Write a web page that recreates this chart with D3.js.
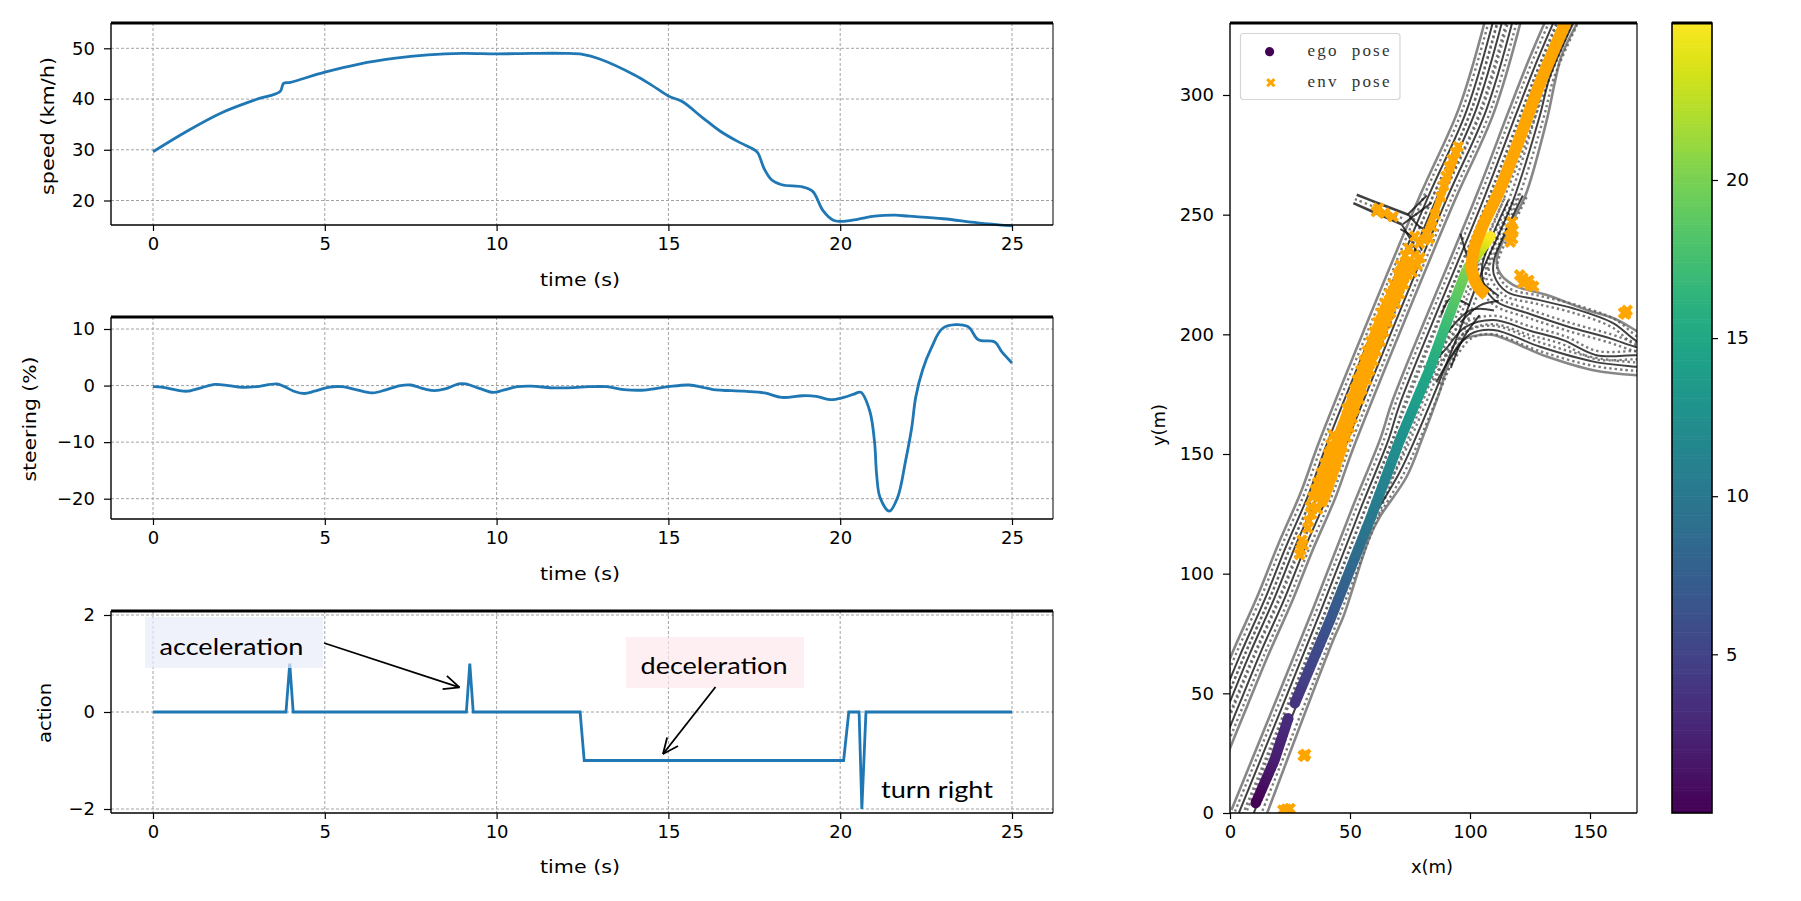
<!DOCTYPE html>
<html><head><meta charset="utf-8">
<style>html,body{margin:0;padding:0;background:#fff}svg{display:block}</style>
<script src="https://cdn.jsdelivr.net/npm/d3@7/dist/d3.min.js"></script></head><body><svg id="c" width="1801" height="901"></svg>
<script>
// ---- time series ----
const speedT=[0,1,2,3,3.7,3.8,4,5,6,7,8,9,10,11,12,12.5,13,14,14.5,15,15.4,16,16.5,17,17.5,17.6,17.8,18,18.3,18.9,19.2,19.5,19.8,20,20.5,21,21.6,22,23,24,25];
const speedV=[29.6,33.7,37.3,39.9,41.5,43.1,43.3,45.3,46.9,48,48.7,49,48.9,49,49,48.8,47.9,44.8,42.8,40.6,39.5,36.3,33.7,31.7,30,29.4,26.1,24.1,23.1,22.7,21.8,18,16.1,15.9,16.3,16.9,17.1,16.9,16.4,15.6,15];
const steerT=[0,.3,.7,1,1.4,1.8,2.2,2.6,3,3.6,3.8,4.1,4.4,4.7,5.1,5.5,5.9,6.4,6.8,7.2,7.5,7.9,8.2,8.5,8.9,9.1,9.5,9.9,10.2,10.6,11,11.6,12,12.7,13.2,13.7,14.3,15,15.6,16,16.3,17.2,17.8,18.3,18.9,19.3,19.7,20.1,20.4,20.6,20.86,21,21.06,21.16,21.43,21.67,21.9,22.08,22.2,22.4,22.65,23,23.7,24.02,24.5,24.7,25];
const steerV=[-.2,-.3,-.8,-1,-.4,.2,0,-.3,-.2,.3,-.1,-1,-1.4,-1,-.3,-.2,-.7,-1.3,-.7,0,.1,-.6,-.9,-.6,.3,.3,-.5,-1.2,-.8,-.2,-.1,-.4,-.4,-.2,-.2,-.7,-.8,-.2,.1,-.3,-.7,-1,-1.3,-2.1,-1.8,-1.9,-2.5,-2.1,-1.5,-1.2,-4.5,-10,-15.7,-19.8,-22.2,-19.8,-13.4,-7.5,-2,2.8,6.6,10.2,10.5,8.1,7.7,6,4];
const actionT=[0,3.87,3.98,4.08,9.12,9.22,9.32,12.43,12.55,20.1,20.25,20.55,20.63,20.75,25];
const actionV=[0,0,1,0,0,1,0,0,-1,-1,0,0,-2,0,0];
const timeTicks=[0,5,10,15,20,25];
const speedTicks=[20,30,40,50], steerTicks=[-20,-10,0,10], actionTicks=[-2,0,2];
const mapXTicks=[0,50,100,150], mapYTicks=[0,50,100,150,200,250,300], cbTicks=[5,10,15,20];
// ---- road lanes (x,y in metres) ----
const laneL1=[[-3.8,46.5],[4.2,66],[14.8,90],[23.2,111],[32.7,133],[39.9,153],[58.9,200.4],[82.6,257.5],[98.7,293.8],[110.2,333]];
const laneL2=[[-8,26],[0,46.5],[8,66],[18.6,90],[27,111],[36.5,133],[43.7,153],[62.7,200.4],[86.4,257.5],[102.5,293.8],[114,333]];
const laneL3=[[-8,16],[0,36],[4.3,46.5],[12.3,66],[22.9,90],[31.3,111],[40.8,133],[48,153],[67,200.4],[90.7,257.5],[106.8,293.8],[118.3,333]];
const laneA=[[3.7,0],[37.5,83.6],[54.2,126.6],[66,155.9],[70.8,171],[106.25,258],[119.4,292.5],[127,312],[135.5,332]];
const laneB=[[9.9,0],[41.7,80.6],[70.8,155.9],[98,225],[111.8,259],[119.4,278.4],[129.2,305],[140,332]];
const laneC=[[60.4,125],[70.8,142.6],[77,155.9],[93.5,196],[104.5,225],[118,256],[129,291],[133.3,307.7],[143,330]];
const laneR1=[[122,258],[114,241],[110,231],[110,224.8],[115.3,217.8],[128,214.5],[143.1,210.8],[159.8,204.6],[168.8,197.6],[175,195]];
const laneR2=[[116,256],[108,238],[105,228],[106,220],[111.1,213.6],[125,208.5],[141,203.2],[158.4,198.3],[168.8,194.8],[175,193.5]];
const laneR3=[[82,185],[90,194],[98,203],[109.8,206],[125,201.5],[138.9,197.6],[152.8,191.3],[168.8,191.3],[175,191]];
const laneR4=[[86,180],[93,192],[100,200],[109.8,201.8],[129.2,194.8],[151.4,188.6],[168.8,186.5],[175,186]];
const edgeOuterLow=[[15.5,0],[43,72.3],[47.2,82],[58.3,115.5],[62.5,123.8],[73.6,140.5],[79.9,155.9],[87,175],[92,190],[97.2,197.7],[104,199.7],[109.8,199.7],[132,190.7],[151.4,185],[175,182.5]];
const edgeOuterHigh=[[175,198],[168.8,201.8],[159.8,206.7],[148.6,210.2],[132,216.4],[118.1,220.6],[112.5,225.5],[111.1,231],[113.9,239.4],[118,248],[122.9,257.5],[132,289.6],[135.3,305],[138,316],[145.7,332]];
const sideTop=[[52.8,258.3],[62,254.7],[74.3,250]];
const sideMid=[[52,256.5],[62,252.5],[73,248]];
const sideBottom=[[51.4,254.8],[61,250.6],[71.5,246]];
const junctionLinks=[
 [[74.3,250],[79,245],[83,243]],[[71.5,246],[75,240],[79,232]],[[74,250],[78,254],[82,258]],[[72,246],[76,249],[84,255]],[[71,244],[77,240],[80,235]],
 [[96,205],[104,212],[112,214]],[[90,200],[100,210],[110,210]],[[88,208],[92,215],[100,212]],[[92,186],[97,198],[104,208]],[[96,242],[99,232],[103,222]],[[100,232],[105,222],[112,216]]];
// ---- ego track, coloured by time ----
const egoA={t:[0,2,3.1],x:[10.7,18.5,24.3],y:[4.1,22,39.6]};
const egoB={t:[3.7,5,6.6,10,12.5,15,17.5,20,25],x:[27,33,41.7,58.5,70.8,83,91,98.6,108.5],y:[45.8,60,80.6,123,155.9,185,207,227,241]};
// ---- env poses ----
const envTrack=[[141,333],[129.2,305],[119.4,278.4],[111.8,259],[105.1,245],[101.6,235.2],[100.8,226.9],[103.4,219.9],[106.8,216.4]];
const envStrip=[[44.6,153],[52,173],[60.1,196],[65.3,210],[70.5,221],[74.8,232]];
const envStripLow=[[36.5,130],[40.5,141],[45,154]];
const envStripHigh=[[81,240],[87.8,257.5],[95,278]];
const envPoints=[[30.5,24],[31.5,24.5],[31,23.7],[22,1.2],[23.5,1.6],[25,1.8],[61,251.3],[64.4,250.6],[67.9,249.2],[61.9,252.7],
[117.5,247],[117,244],[116.5,241],[116.8,238.5],[117.8,240],[118,243.5],[120.7,224.8],[122,223.5],[123.5,222],[125,220.5],[126.5,220],[122,221.5],[124.5,222.5],[164,209],[165.5,210],[164.8,208.5],
[29,108],[29.5,110],[30.5,112],[30,114],[32.4,119],[32.8,122],[34,125],[36.5,127],[38,130],[39.5,133],[41,137],[42.5,141],[44,145],[45.5,149],[47,153],[48.5,157],[33.5,128],[34.5,132],[35.5,135],[36.5,138],[38,142],[39.5,146],[41,150],[42,154],[43,158],[37,133],[38.5,137],[40,141],[41.5,145],[43,149],[44.5,153],[46,157],
[47.6,161],[49.8,161],[49,165],[51,165],[48.8,169],[52,169],[50.5,173],[53.8,173],[52,177],[55,177],[53,181],[57,181],[54.5,185],[58.2,185],[55.8,189],[59.6,189],[57.2,193],[61,193],[58.6,197],[62.6,197],[60,201],[64,201],[61.5,205],[65.6,205],[63,209],[67,209],[64.6,213],[69,213],[66.4,217],[70.6,217],[68,221],[72.4,221],[70,225],[74,225],[71,229],[75.8,229],[73,233],[76.8,233],[74.5,236],[76,226],[79.2,232],[78,229],[80.9,239.4],[82,242],[84.3,245],[85.5,250],[87.8,257.5],[89,262],[90,266],[91.3,270],[92.5,273],[94,276],[95.1,278.4],[83,240],[79,238],[77,241]];

const svg=d3.select('#c');
const SANS='"DejaVu Sans",sans-serif';
const X0=153,X25=1012,PL=111,PR=1053;
function panel(top,bottom,yScale,ticks,tT,tV,xl,yl,smooth){
  const x=d3.scaleLinear().domain([0,25]).range([X0,X25]);
  const g=svg.append('g');
  const gridC='#a3a3a3';
  g.selectAll('.gx').data(timeTicks).join('line').attr('x1',d=>x(d)).attr('x2',d=>x(d)).attr('y1',top).attr('y2',bottom).attr('stroke',gridC).attr('stroke-dasharray','3 2');
  g.selectAll('.gy').data(ticks).join('line').attr('x1',PL).attr('x2',PR).attr('y1',d=>yScale(d)).attr('y2',d=>yScale(d)).attr('stroke',gridC).attr('stroke-dasharray','3 2');
  const ln=d3.line().x((d,i)=>x(tT[i])).y((d,i)=>yScale(d));
  if(smooth) ln.curve(d3.curveCatmullRom.alpha(.5));
  g.append('path').attr('d',ln(tV)).attr('fill','none').attr('stroke','#1f77b4').attr('stroke-width',2.8);
  const ax=g.append('g').attr('transform',`translate(0,${bottom})`).call(d3.axisBottom(x).tickValues(timeTicks).tickSize(6).tickPadding(6).tickFormat(d3.format('d')));
  const ay=g.append('g').attr('transform',`translate(${PL},0)`).call(d3.axisLeft(yScale).tickValues(ticks).tickSize(7).tickPadding(9).tickFormat(d=>String(d).replace('-','\u2212')));
  [ax,ay].forEach(a=>{a.select('.domain').remove();a.selectAll('text').attr('font-family',SANS).attr('font-size',18).attr('fill','#000');a.selectAll('line').attr('stroke','#000').attr('stroke-width',1.2)});
  g.append('line').attr('x1',PL).attr('x2',PR).attr('y1',top).attr('y2',top).attr('stroke','#000').attr('stroke-width',3);
  g.append('line').attr('x1',PL).attr('x2',PR).attr('y1',bottom).attr('y2',bottom).attr('stroke','#000').attr('stroke-width',1.4);
  g.append('line').attr('x1',PL).attr('x2',PL).attr('y1',top).attr('y2',bottom).attr('stroke','#000').attr('stroke-width',1.4);
  g.append('line').attr('x1',PR).attr('x2',PR).attr('y1',top).attr('y2',bottom).attr('stroke','#000').attr('stroke-width',1);
  g.append('text').attr('x',580).attr('y',xl).attr('text-anchor','middle').attr('dominant-baseline','central').attr('font-family',SANS).attr('font-size',18).attr('textLength',80).attr('lengthAdjust','spacingAndGlyphs').text('time (s)');
  g.append('text').attr('transform',`translate(${yl.x},${yl.y}) rotate(-90)`).attr('text-anchor','middle').attr('dominant-baseline','central').attr('font-family',SANS).attr('font-size',18).attr('textLength',yl.len).attr('lengthAdjust','spacingAndGlyphs').text(yl.t);
  return x;
}
const ySpeed=d3.scaleLinear().domain([50,20]).range([48.3,200.5]);
const ySteer=d3.scaleLinear().domain([10,-20]).range([329,498.7]);
const yAct=d3.scaleLinear().domain([2,-2]).range([615,809]);
panel(23,225,ySpeed,speedTicks,speedT,speedV,279,{x:47,y:126,len:138,t:'speed (km/h)'},true);
panel(317,519,ySteer,steerTicks,steerT,steerV,573,{x:29,y:419,len:125,t:'steering (%)'},true);
const xAct=panel(611,813,yAct,actionTicks,actionT,actionV,866,{x:44,y:713,len:60,t:'action'},false);

// annotations
const NOTE='Lato,"Open Sans",sans-serif';
const ann=svg.append('g');
ann.append('rect').attr('x',145).attr('y',617).attr('width',178).attr('height',51).attr('fill','#e8edf9').attr('fill-opacity',.7);
ann.append('rect').attr('x',626).attr('y',637).attr('width',178).attr('height',51).attr('fill','#fce8ec').attr('fill-opacity',.7);
[['acceleration',231.5,645,144],['deceleration',714,664,147],['turn right',937,788,112]].forEach(a=>{
 ann.append('text').attr('x',a[1]).attr('y',a[2]).attr('text-anchor','middle').attr('dominant-baseline','central').attr('font-family',NOTE).attr('font-size',24).attr('textLength',a[3]).attr('lengthAdjust','spacingAndGlyphs').text(a[0]);
});
function arrow(x1,y1,x2,y2){
 ann.append('line').attr('x1',x1).attr('y1',y1).attr('x2',x2).attr('y2',y2).attr('stroke','#000').attr('stroke-width',1.8);
 const a=Math.atan2(y2-y1,x2-x1),L=17,s=.42;
 [a+s,a-s].forEach(b=>ann.append('line').attr('x1',x2).attr('y1',y2).attr('x2',x2-L*Math.cos(b)).attr('y2',y2-L*Math.sin(b)).attr('stroke','#000').attr('stroke-width',1.8));
}
arrow(324,643,459.5,687.3);
arrow(715.5,687,663,754);

// map
const mx=d3.scaleLinear().domain([0,150]).range([1230,1590]);
const my=d3.scaleLinear().domain([0,300]).range([813,95]);
const MT=23,MB=813,ML=1230,MR=1637;
svg.append('clipPath').attr('id','mapclip').append('rect').attr('x',ML).attr('y',MT).attr('width',MR-ML).attr('height',MB-MT);
const road=svg.append('g').attr('clip-path','url(#mapclip)');
const toPx=p=>p.map(d=>[mx(d[0]),my(d[1])]);
function offset(p,o){ // o>0 shifts towards the right of the travel direction
  return p.map((d,i)=>{
    const a=p[Math.max(0,i-1)],b=p[Math.min(p.length-1,i+1)];
    const dx=b[0]-a[0],dy=b[1]-a[1],l=Math.hypot(dx,dy)||1;
    return [d[0]-dy/l*o,d[1]+dx/l*o];
  });
}
const curve=d3.line().curve(d3.curveCatmullRom.alpha(.5));
const edgeStyle=s=>s.attr('fill','none').attr('stroke','#5f5f5f').attr('stroke-opacity',.75).attr('stroke-width',2.6);
const dotStyle=s=>s.attr('fill','none').attr('stroke','#5a5a5a').attr('stroke-opacity',.8).attr('stroke-width',2.4).attr('stroke-dasharray','2.4 3');
const coreStyle=s=>s.attr('fill','none').attr('stroke','#111').attr('stroke-opacity',.8).attr('stroke-width',2);
const DOT=4.2, DOT_EGO=7.2, EDGE=8;
const lanes=[laneL1,laneL2,laneL3,laneA,laneB,laneC,laneR1,laneR2,laneR3,laneR4];
lanes.forEach(l=>{
  const p=toPx(l), d=(l===laneB)?DOT_EGO:DOT;
  [d,-d].forEach(o=>road.append('path').attr('d',curve(offset(p,o))).call(dotStyle));
});
[edgeOuterLow,edgeOuterHigh].forEach(l=>road.append('path').attr('d',curve(toPx(l))).call(edgeStyle));
[[laneL1,-EDGE],[laneL3,EDGE],[laneA,-EDGE]].forEach(([l,o])=>road.append('path').attr('d',curve(offset(toPx(l),o))).call(edgeStyle));
lanes.forEach(l=>road.append('path').attr('d',curve(toPx(l))).call(coreStyle));
road.append('path').attr('d',curve(toPx(sideMid))).call(dotStyle);
[sideTop,sideBottom].forEach(l=>road.append('path').attr('d',curve(toPx(l))).call(coreStyle).attr('stroke-width',2.6));
junctionLinks.forEach(l=>road.append('path').attr('d',curve(toPx(l))).call(coreStyle));

// ego
const viridis=d3.scaleSequential(d3.interpolateViridis).domain([0,25]);
[egoA,egoB].forEach(e=>{
  const last=e.t.length-1;
  road.append('circle').attr('cx',mx(e.x[0])).attr('cy',my(e.y[0])).attr('r',5.2).attr('fill',viridis(e.t[0]));
  road.append('circle').attr('cx',mx(e.x[last])).attr('cy',my(e.y[last])).attr('r',5.2).attr('fill',viridis(e.t[last]));
  for(let i=0;i<last;i++){
    const n=10;
    for(let k=0;k<n;k++){
      const f=k/n,f2=(k+1.15)/n,lerp=(a,u)=>a[i]+(a[i+1]-a[i])*u;
      road.append('line').attr('x1',mx(lerp(e.x,f))).attr('y1',my(lerp(e.y,f))).attr('x2',mx(lerp(e.x,f2))).attr('y2',my(lerp(e.y,f2)))
        .attr('stroke',viridis(lerp(e.t,f+.05))).attr('stroke-width',10.4);
    }
  }
});
// env
const envStroke=(s,w)=>s.attr('fill','none').attr('stroke','#ffa500').attr('stroke-width',w);
road.append('path').attr('d',curve(toPx(envTrack))).call(envStroke,12);
road.append('path').attr('d',curve(toPx(envStrip))).call(envStroke,15);
road.append('path').attr('d',curve(toPx(envStripLow))).call(envStroke,20);
road.append('path').attr('d',curve(toPx(envStripHigh))).call(envStroke,7);
const xMark='M-4.5,-4.5L4.5,4.5M-4.5,4.5L4.5,-4.5';
road.selectAll('.env').data(envPoints).join('path').attr('d',xMark).attr('transform',d=>`translate(${mx(d[0])},${my(d[1])})`).attr('fill','none').attr('stroke','#ffa500').attr('stroke-width',4);

// map axes
const max=svg.append('g').attr('transform',`translate(0,${MB})`).call(d3.axisBottom(mx).tickValues(mapXTicks).tickSize(6).tickPadding(6).tickFormat(d3.format('d')));
const may=svg.append('g').attr('transform',`translate(${ML},0)`).call(d3.axisLeft(my).tickValues(mapYTicks).tickSize(7).tickPadding(9).tickFormat(d3.format('d')));
[max,may].forEach(a=>{a.select('.domain').remove();a.selectAll('text').attr('font-family',SANS).attr('font-size',18).attr('fill','#000');a.selectAll('line').attr('stroke','#000').attr('stroke-width',1.2)});
svg.append('line').attr('x1',ML).attr('x2',MR).attr('y1',MT).attr('y2',MT).attr('stroke','#000').attr('stroke-width',3);
svg.append('line').attr('x1',ML).attr('x2',MR).attr('y1',MB).attr('y2',MB).attr('stroke','#000').attr('stroke-width',1.4);
svg.append('line').attr('x1',ML).attr('x2',ML).attr('y1',MT).attr('y2',MB).attr('stroke','#000').attr('stroke-width',1.4);
svg.append('line').attr('x1',MR).attr('x2',MR).attr('y1',MT).attr('y2',MB).attr('stroke','#000').attr('stroke-width',1.2);
svg.append('text').attr('x',1432).attr('y',866).attr('text-anchor','middle').attr('dominant-baseline','central').attr('font-family',SANS).attr('font-size',18).text('x(m)');
svg.append('text').attr('transform','translate(1158,425) rotate(-90)').attr('text-anchor','middle').attr('dominant-baseline','central').attr('font-family',SANS).attr('font-size',18).text('y(m)');

// legend
const lg=svg.append('g');
lg.append('rect').attr('x',1240.5).attr('y',33.5).attr('width',159.5).attr('height',66).attr('rx',3).attr('fill','#fff').attr('fill-opacity',.85).attr('stroke','#d5d5d5').attr('stroke-width',1.2);
lg.append('circle').attr('cx',1269.6).attr('cy',51.7).attr('r',4.6).attr('fill','#440154');
lg.append('path').attr('d','M-3.6,-3.6L3.6,3.6M-3.6,3.6L3.6,-3.6').attr('transform','translate(1270.8,82.7)').attr('fill','none').attr('stroke','#ffa500').attr('stroke-width',3);
[['ego  pose',50.5],['env  pose',81]].forEach(d=>lg.append('text').attr('x',1307.5).attr('y',d[1]).attr('dominant-baseline','central').style('white-space','pre').attr('font-family','"Liberation Serif",serif').attr('font-size',17).attr('fill','#333').attr('textLength',82).attr('lengthAdjust','spacing').text(d[0]));

// colorbar
const CL=1672,CR=1712;
const cy=d3.scaleLinear().domain([5,20]).range([654.3,180]);
const cbLevels=d3.range(0,25,0.1);
svg.append('g').selectAll('rect').data(cbLevels).join('rect').attr('x',CL).attr('width',CR-CL).attr('y',d=>cy(d+0.1)).attr('height',d=>cy(d)-cy(d+0.1)+.6).attr('fill',d=>viridis(d));
svg.append('rect').attr('x',CL).attr('y',MT).attr('width',CR-CL).attr('height',MB-MT).attr('fill','none').attr('stroke','#000').attr('stroke-width',1.6);
svg.append('line').attr('x1',CL).attr('x2',CR).attr('y1',MT).attr('y2',MT).attr('stroke','#000').attr('stroke-width',3);
const cax=svg.append('g').attr('transform',`translate(${CR},0)`).call(d3.axisRight(cy).tickValues(cbTicks).tickSize(6).tickPadding(8).tickFormat(d3.format('d')));
cax.select('.domain').remove();cax.selectAll('text').attr('font-family',SANS).attr('font-size',18).attr('fill','#000');cax.selectAll('line').attr('stroke','#000').attr('stroke-width',1.2);
</script></body></html>
